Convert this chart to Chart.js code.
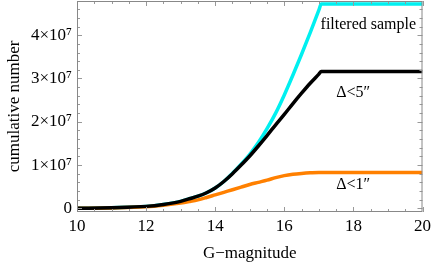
<!DOCTYPE html>
<html>
<head>
<meta charset="utf-8">
<script src="https://cdn.jsdelivr.net/npm/chart.js@4/dist/chart.umd.min.js"></script>
<style>
  html, body { margin: 0; padding: 0; background: #fff; }
  #wrap { width: 431px; height: 262px; }
</style>
</head>
<body>
<div id="wrap"><canvas id="cumChart" width="431" height="262"></canvas></div>
<script>
// G-magnitude sample points
const magnitudes = [10, 11, 12, 12.5, 13, 13.25, 13.5, 13.75, 14, 14.25, 14.5, 14.75, 15, 15.25, 15.5, 15.75, 16, 16.25, 16.5, 16.75, 17, 17.07, 18, 19, 20];

// cumulative counts (units of 1e7)
const filteredSample = [0, 0.015, 0.045, 0.09, 0.16, 0.22, 0.28, 0.36, 0.47, 0.62, 0.81, 1.02, 1.25, 1.52, 1.84, 2.2, 2.62, 3.08, 3.56, 4.06, 4.58, 4.72, 4.72, 4.72, 4.72];
const within5 = [0, 0.015, 0.045, 0.09, 0.16, 0.22, 0.28, 0.36, 0.47, 0.62, 0.8, 1.0, 1.21, 1.44, 1.68, 1.93, 2.17, 2.42, 2.66, 2.89, 3.1, 3.16, 3.16, 3.16, 3.16];
const within1 = [0, 0.01, 0.035, 0.07, 0.12, 0.155, 0.195, 0.25, 0.31, 0.37, 0.43, 0.49, 0.55, 0.6, 0.65, 0.71, 0.755, 0.785, 0.805, 0.82, 0.83, 0.83, 0.83, 0.83, 0.83];

const xTicks = [10, 12, 14, 16, 18, 20];
const yTicks = [0, 1, 2, 3, 4];
const yTickLabels = ['0', '1\u00d710\u2077', '2\u00d710\u2077', '3\u00d710\u2077', '4\u00d710\u2077'];

const serif = '"Liberation Serif", "Times New Roman", serif';
const E7 = 1e7;

function toPoints(ys) {
    return magnitudes.map((m, i) => ({ x: m, y: ys[i] * E7 }));
}

// inward frame ticks + curve labels
const frameTicks = {
    id: 'frameTicks',
    afterDraw(chart) {
        const { ctx, chartArea: a, scales: { x, y } } = chart;
        ctx.save();
        ctx.strokeStyle = '#999';
        ctx.lineWidth = 1;
        ctx.beginPath();
        for (let v = 10; v <= 20.001; v += 0.5) {
            const px = Math.round(x.getPixelForValue(v)) + 0.5;
            const len = Math.abs(v % 2) < 0.01 ? 5 : 3;
            ctx.moveTo(px, a.bottom); ctx.lineTo(px, a.bottom - len);
            ctx.moveTo(px, a.top); ctx.lineTo(px, a.top + len);
        }
        for (let k = 0; k <= 24; k++) {
            const v = k * 0.2 * E7;
            const py = Math.round(y.getPixelForValue(v)) + 0.5;
            const len = k % 5 === 0 ? 5 : 3;
            ctx.moveTo(a.left, py); ctx.lineTo(a.left + len, py);
            ctx.moveTo(a.right, py); ctx.lineTo(a.right - len, py);
        }
        ctx.stroke();
        ctx.strokeStyle = '#888';
        ctx.strokeRect(a.left + 0.5, a.top + 0.5, a.right - a.left - 1, a.bottom - a.top - 1);

        ctx.fillStyle = '#000';
        ctx.font = '16px ' + serif;
        ctx.textBaseline = 'middle';
        ctx.textAlign = 'left';
        ctx.fillText('filtered sample', x.getPixelForValue(17.05), y.getPixelForValue(4.23 * E7));
        ctx.fillText('\u0394<5\u2033', x.getPixelForValue(17.5), y.getPixelForValue(2.66 * E7));
        ctx.fillText('\u0394<1\u2033', x.getPixelForValue(17.5), y.getPixelForValue(0.54 * E7));
        ctx.restore();
    }
};

const lineStyle = {
    borderWidth: 3.5,
    pointRadius: 0,
    fill: false,
    cubicInterpolationMode: 'monotone'
};

new Chart(document.getElementById('cumChart').getContext('2d'), {
    type: 'line',
    data: {
        datasets: [
            Object.assign({ label: '\u0394<5\u2033', data: toPoints(within5), borderColor: '#000000' }, lineStyle),
            Object.assign({ label: '\u0394<1\u2033', data: toPoints(within1), borderColor: '#ff8000' }, lineStyle),
            Object.assign({ label: 'filtered sample', data: toPoints(filteredSample), borderColor: '#00f0f0' }, lineStyle)
        ]
    },
    options: {
        responsive: false,
        animation: false,
        layout: { padding: { top: 1, right: 8.5, bottom: 0, left: 0 } },
        plugins: {
            legend: { display: false },
            tooltip: { enabled: false }
        },
        scales: {
            x: {
                type: 'linear',
                min: 10,
                max: 20,
                afterBuildTicks: s => { s.ticks = xTicks.map(v => ({ value: v })); },
                afterFit: s => { s.height = 50; s.paddingLeft = 0; s.paddingRight = 0; },
                grid: { display: false, drawTicks: false },
                border: { display: false },
                ticks: {
                    padding: 4,
                    color: '#000',
                    font: { family: serif, size: 17 },
                    maxRotation: 0,
                    callback: v => String(v)
                },
                title: {
                    display: true,
                    text: 'G\u2212magnitude',
                    color: '#000',
                    font: { family: serif, size: 17, lineHeight: 1 },
                    padding: { top: 0, bottom: 0 }
                }
            },
            y: {
                type: 'linear',
                min: -0.085 * E7,
                max: 4.79 * E7,
                afterBuildTicks: s => { s.ticks = yTicks.map(v => ({ value: v * E7 })); },
                afterFit: s => { s.width = 77; s.paddingTop = 0; s.paddingBottom = 0; },
                grid: { display: false, drawTicks: false },
                border: { display: false },
                ticks: {
                    padding: 5,
                    color: '#000',
                    font: { family: serif, size: 17 },
                    callback: (v) => yTickLabels[yTicks.indexOf(Math.round(v / E7))]
                },
                title: {
                    display: true,
                    text: 'cumulative number',
                    color: '#000',
                    font: { family: serif, size: 17 },
                    padding: { top: 4, bottom: 0 }
                }
            }
        }
    },
    plugins: [frameTicks]
});
</script>
</body>
</html>
